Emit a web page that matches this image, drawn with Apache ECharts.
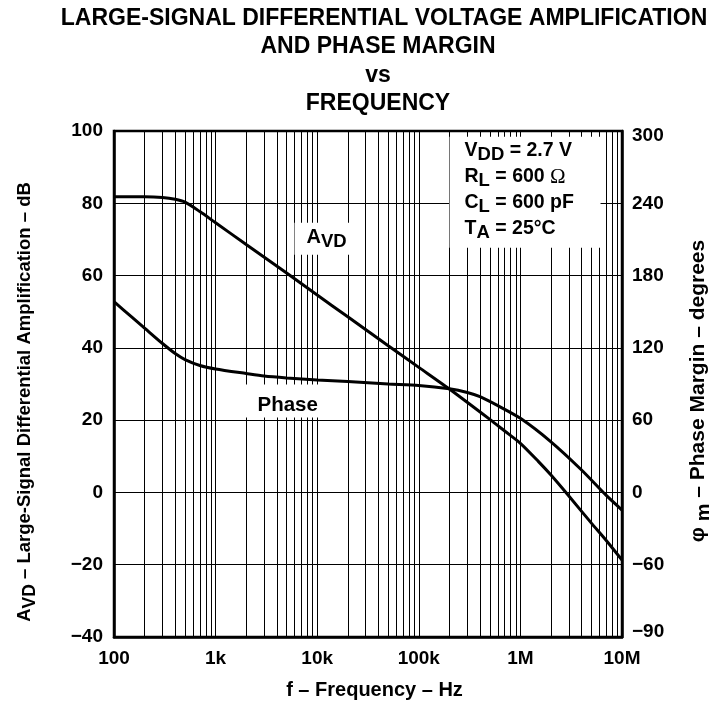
<!DOCTYPE html>
<html><head><meta charset="utf-8">
<script src="https://cdn.jsdelivr.net/npm/echarts@6/dist/echarts.min.js"></script>
<style>html,body{margin:0;padding:0;background:#fff;overflow:hidden}#c{width:709px;height:702px}</style>
</head><body><div id="c"></div>
<script>
// ---- data ----
const freqAVD = [100,200,300,400,500,700,1e3,2e3,5e3,1e4,2e4,5e4,1e5,2e5,5e5,7e5,1e6,1.5e6,2e6,3e6,5e6,7e6,1e7];
const avdDB   = [81.8,81.8,81.6,81.1,80.3,77.7,74.6,68.6,60.7,54.6,48.6,40.6,34.6,28.6,20.2,17.0,13.6,8.6,4.8,-1.0,-8.5,-13.3,-18.7];
const freqPhase = [100,150,200,300,400,500,700,1e3,2e3,3e3,5e3,1e4,2e4,5e4,1e5,2e5,3e5,4e5,6e5,1e6,2e6,4e6,7e6,1e7];
const phaseDeg  = [158.3,145.5,136.4,123.6,115.3,110.3,105.4,102.5,98.7,96.6,95,93.3,92,90,88.8,86,83,79.5,72,61.5,42,18.6,-2.5,-14.6];
const xTickLabels = ['100','1k','10k','100k','1M','10M'];
const leftTickLabels = ['−40','−20','0','20','40','60','80','100'];
const rightTickLabels = ['−90','−60','0','60','120','180','240','300'];
const titleLines = ['LARGE-SIGNAL DIFFERENTIAL VOLTAGE AMPLIFICATION','AND PHASE MARGIN','vs','FREQUENCY'];

const F = 'Liberation Sans, Arial, Helvetica, sans-serif';
const minorGrid = [];
for (let d = 100; d < 1e7; d *= 10) for (let k = 2; k <= 9; k++) minorGrid.push({ xAxis: k * d });

const zip = (a, b) => a.map((v, i) => [v, b[i]]);
const bold = (size, lh, extra) => Object.assign({ fontFamily: F, fontWeight: 'bold', fontSize: size, lineHeight: lh, verticalAlign: 'top', color: '#000' }, extra || {});

const titleText = titleLines.map((t, i) => (i === 0 ? '{l1|' : '{l|') + t + '}').join('\n');

const chart = echarts.init(document.getElementById('c'), null, { renderer: 'canvas' });
chart.setOption({
  animation: false,
  backgroundColor: '#fff',
  title: {
    text: titleText,
    left: 378, top: 4, textAlign: 'center', padding: 0,
    textStyle: { fontFamily: F, fontWeight: 'bold', fontSize: 23, lineHeight: 28.5, color: '#000',
      rich: { l: { fontFamily: F, fontWeight: 'bold', fontSize: 23, lineHeight: 28.5, color: '#000' },
              l1: { fontFamily: F, fontWeight: 'bold', fontSize: 23, lineHeight: 28.5, color: '#000', padding: [0, 0, 0, 12] } } }
  },
  grid: { left: 114, right: 87, top: 131, bottom: 65, outerBoundsMode: 'none', containLabel: false,
          show: true, borderColor: '#000', borderWidth: 2.5, backgroundColor: 'transparent' },
  xAxis: {
    type: 'log', logBase: 10, min: 100, max: 1e7, splitNumber: 5,
    axisLine: { onZero: false, lineStyle: { color: '#000', width: 2.5 } },
    axisTick: { show: false },
    splitLine: { show: true, lineStyle: { color: '#000', width: 1 } },
    axisLabel: { margin: 12, fontFamily: F, fontWeight: 'bold', fontSize: 19, color: '#000',
      formatter: v => xTickLabels[Math.round(Math.log10(v)) - 2] },
    name: 'f – Frequency – Hz', nameLocation: 'middle', nameGap: 43,
    nameTextStyle: { fontFamily: F, fontWeight: 'bold', fontSize: 20, color: '#000', padding: [0, 0, 0, 13] }
  },
  yAxis: [{
    type: 'value', min: -40, max: 100, interval: 20,
    axisLine: { show: true, onZero: false, lineStyle: { color: '#000', width: 2.5 } },
    axisTick: { show: false },
    splitLine: { show: true, lineStyle: { color: '#000', width: 1 } },
    axisLabel: { margin: 11, fontFamily: F, fontWeight: 'bold', fontSize: 19, color: '#000',
      formatter: v => leftTickLabels[Math.round((v + 40) / 20)] },
    name: '{m|A}{s|VD}{m| – Large-Signal Differential Amplification – dB}',
    nameLocation: 'middle', nameRotate: 90, nameGap: 73,
    nameTextStyle: { fontFamily: F, fontWeight: 'bold', fontSize: 18.5, color: '#000', padding: [0, 36, 0, 0],
      rich: { m: bold(18.5, 26), s: bold(17.5, 26, { padding: [6, 0, 0, 0] }) } }
  }, {
    type: 'value', min: -120, max: 300, interval: 60, position: 'right',
    axisLine: { show: true, onZero: false, lineStyle: { color: '#000', width: 2.5 } },
    axisTick: { show: false },
    splitLine: { show: false },
    axisLabel: { margin: 10, fontFamily: F, fontWeight: 'bold', fontSize: 19, color: '#000',
      formatter: v => { const i = Math.round((v + 120) / 60); const t = rightTickLabels[i];
        if (i === 0) return '{lo|' + t + '}'; if (i === rightTickLabels.length - 1) return '{hi|' + t + '}'; return t; },
      rich: { lo: bold(19, 19, { verticalAlign: 'middle', padding: [0, 0, 10, 0] }),
              hi: bold(19, 19, { verticalAlign: 'middle', padding: [10, 0, 0, 0] }) } },
    name: '{m|φ }{s|m}{m| – Phase Margin – degrees}',
    nameLocation: 'middle', nameRotate: 90, nameGap: 66,
    nameTextStyle: { fontFamily: F, fontWeight: 'bold', fontSize: 21, color: '#000', padding: [0, 14, 0, 0],
      rich: { m: bold(21, 28), s: bold(20, 28, { padding: [6, 0, 0, 0] }) } }
  }],
  series: [
    { // minor vertical grid lines (2..9 within each decade)
      type: 'line', data: [], z: 1, silent: true,
      markLine: { silent: true, symbol: ['none', 'none'], label: { show: false },
        lineStyle: { color: '#000', width: 1, type: 'solid' }, emphasis: { disabled: true }, data: minorGrid }
    },
    { // annotations
      type: 'line', data: [], z: 2, silent: true,
      markPoint: {
        silent: true, symbol: 'rect', symbolSize: 1, itemStyle: { color: 'rgba(0,0,0,0)' },
        data: [
          { coord: [2.03e5, 98.3],
            label: { show: true, position: [0, 0], align: 'left', verticalAlign: 'top',
              backgroundColor: '#fff', padding: [4, 6, 3, 15], width: 130, height: 104,
              formatter: '{b|V}{s|DD}{b| = 2.7 V}\n{b|R}{s|L}{b| = 600 }{o|Ω}\n{b|C}{s|L}{b| = 600 pF}\n{b|T}{s|A}{b| = 25°C}',
              rich: { b: bold(19.5, 26), s: bold(18.5, 26, { padding: [5, 0, 0, 0] }),
                      o: { fontFamily: 'Liberation Serif, serif', fontWeight: 'normal', fontSize: 21, lineHeight: 26, verticalAlign: 'top', color: '#000' } } } },
          { coord: [6045, 74.5],
            label: { show: true, position: [0, 0], align: 'left', verticalAlign: 'top',
              backgroundColor: '#fff', padding: [5, 8, 3, 12],
              formatter: '{a|A}{s|VD}', rich: { a: bold(20, 24), s: bold(18.5, 24, { padding: [5, 0, 0, 0] }) } } },
          { coord: [1739, 29.7],
            label: { show: true, position: [0, 0], align: 'left', verticalAlign: 'top',
              backgroundColor: '#fff', padding: [10, 13, 3, 18],
              formatter: '{a|Phase}', rich: { a: bold(20.5, 20) } } }
        ]
      }
    },
    { name: 'AVD', type: 'line', z: 3, data: zip(freqAVD, avdDB), smooth: 0.25, symbol: 'none',
      lineStyle: { color: '#000', width: 3 }, silent: true },
    { name: 'Phase', type: 'line', z: 3, yAxisIndex: 1, data: zip(freqPhase, phaseDeg), smooth: 0.25, symbol: 'none',
      lineStyle: { color: '#000', width: 3 }, silent: true }
  ]
});
</script></body></html>
